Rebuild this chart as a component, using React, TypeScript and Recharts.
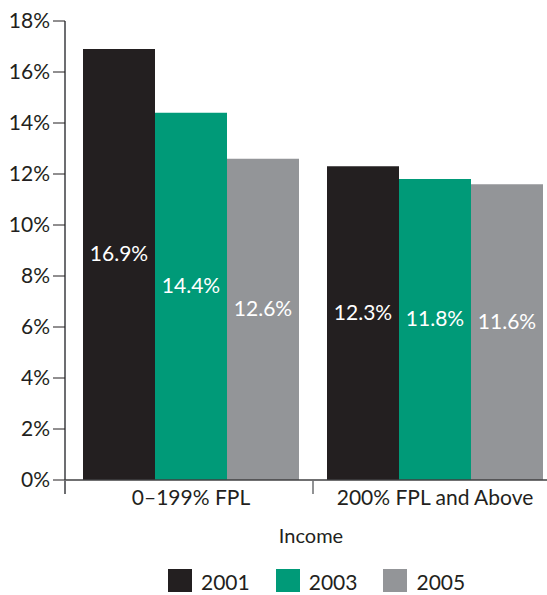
import { Bar, BarChart, LabelList, XAxis, YAxis } from "recharts";

const categories = ["0–199% FPL", "200% FPL and Above"];
const years = ["2001", "2003", "2005"];
const values2001 = [16.9, 12.3];
const values2003 = [14.4, 11.8];
const values2005 = [12.6, 11.6];
const yTicks = [0, 2, 4, 6, 8, 10, 12, 14, 16, 18];

const colors = ["#231f20", "#009a78", "#939598"];
const ink = "#231f20";
const font = "Lato, 'Open Sans', sans-serif";
const padLeft = 4;

const data = categories.map((cat, i) => ({
  cat,
  y2001: values2001[i],
  y2003: values2003[i],
  y2005: values2005[i],
}));

/** Category tick: label plus the short divider / axis stub below the baseline. */
function CategoryTick(props: any) {
  const { x, y, payload, index } = props;
  const half = payload?.offset ?? 122;
  const edge = index === 0 ? x - half - padLeft : x - half;
  return (
    <g>
      <line x1={edge} x2={edge} y1={y} y2={y + 14} stroke="#6d6e71" strokeWidth={index === 0 ? 2 : 1.5} />
      <text x={x} y={y + 25} textAnchor="middle" fontSize={21} fill={ink} fontFamily={font}>
        {payload.value}
      </text>
    </g>
  );
}

function BarValue(props: any) {
  const { x, y, width, height, value } = props;
  return (
    <text
      x={x + width / 2}
      y={y + height / 2 - 12}
      textAnchor="middle"
      dominantBaseline="central"
      fontSize={21}
      fill="#ffffff"
      fontFamily={font}
    >
      {`${Number(value).toFixed(1)}%`}
    </text>
  );
}

export default function App() {
  const series = ["y2001", "y2003", "y2005"];
  return (
    <div
      style={{
        position: "fixed",
        left: 0,
        top: 0,
        width: 547,
        height: 595,
        overflow: "hidden",
        background: "#fff",
        fontFamily: font,
      }}
    >
      <BarChart
        width={557}
        height={595}
        data={data}
        margin={{ top: 21, right: 0, bottom: 35, left: 0 }}
        barCategoryGap={14}
        barGap={0}
      >
        <YAxis
          domain={[0, 18]}
          ticks={yTicks}
          width={65}
          interval={0}
          tickFormatter={(v: number) => `${v}%`}
          tick={{ fontSize: 21, fill: ink, fontFamily: font }}
          tickSize={12}
          tickMargin={3}
          tickLine={{ stroke: ink, strokeWidth: 1 }}
          axisLine={{ stroke: "#6d6e71", strokeWidth: 2 }}
        />
        <XAxis
          dataKey="cat"
          height={80}
          padding={{ left: padLeft, right: 0 }}
          tickSize={0}
          tickMargin={0}
          tickLine={false}
          interval={0}
          tick={<CategoryTick />}
          axisLine={{ stroke: "#414042", strokeWidth: 1.5 }}
          label={{
            value: "Income",
            position: "insideBottom",
            offset: 17,
            fontSize: 20,
            fill: ink,
            fontFamily: font,
          }}
        />
        {series.map((key, i) => (
          <Bar key={key} dataKey={key} fill={colors[i]} isAnimationActive={false}>
            <LabelList dataKey={key} content={<BarValue />} />
          </Bar>
        ))}
      </BarChart>
      <div
        style={{
          position: "absolute",
          top: 568,
          left: 168,
          display: "flex",
          gap: 26,
          alignItems: "center",
        }}
      >
        {years.map((yr, i) => (
          <div key={yr} style={{ display: "flex", alignItems: "center", gap: 9 }}>
            <span style={{ width: 24, height: 23, background: colors[i], display: "inline-block" }} />
            <span style={{ fontSize: 21, color: ink, lineHeight: "24px", position: "relative", top: 2 }}>
              {yr}
            </span>
          </div>
        ))}
      </div>
    </div>
  );
}
